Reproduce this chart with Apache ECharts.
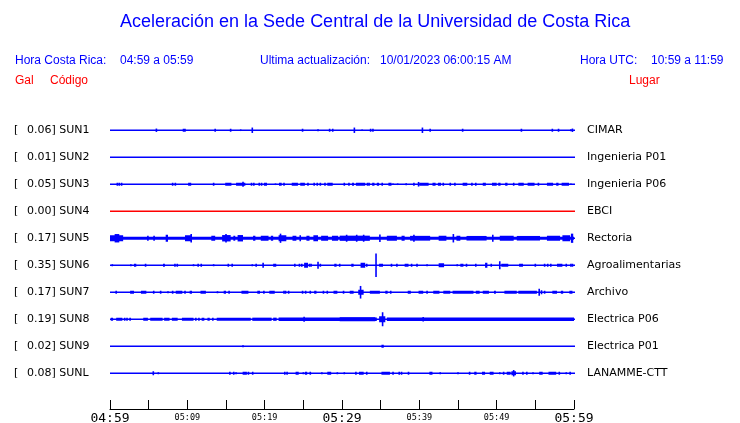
<!DOCTYPE html>
<html>
<head>
<meta charset="utf-8">
<script src="https://cdn.jsdelivr.net/npm/echarts@6/dist/echarts.min.js"></script>
<style>html,body{margin:0;padding:0;background:#fff}#c{width:740px;height:423px}</style>
</head>
<body>
<div id="c"></div>
<script>
// ---------- data ----------
const titleText = 'Aceleración en la Sede Central de la Universidad de Costa Rica';
const localRange = '04:59 a 05:59';
const utcRange = '10:59 a 11:59';
const updated = '10/01/2023 06:00:15 AM';
const tickLabels = ['04:59','','05:09','','05:19','','05:29','','05:39','','05:49','','05:59'];
const majorTicks = ['04:59','05:29','05:59'];
const codes = ['SUN1','SUN2','SUN3','SUN4','SUN5','SUN6','SUN7','SUN8','SUN9','SUNL'];
const gal = ['0.06','0.01','0.05','0.00','0.17','0.35','0.17','0.19','0.02','0.08'];
const places = ['CIMAR','Ingenieria P01','Ingenieria P06','EBCI','Rectoria','Agroalimentarias','Archivo','Electrica P06','Electrica P01','LANAMME-CTT'];
// events per station: [minute, amplitude] or [startMinute, endMinute, amplitude]
const sun1 = [[6.0,1.7],[9.4,9.8,1.5],[13.6,1.5],[15.6,1.5],[16.9,0.8],[18.4,18.6,2.7],[24.9,25.1,1.5],[26.9,1],[28.4,1.5],[28.8,1.5],[31.6,2.7],[32.6,0.8],[33.7,1.5],[34.0,34.2,1.5],[40.4,2.7],[41.4,1.5],[45.6,1.5],[53.2,1.5],[57.2,1.5],[58.0,1.5],[59.6,1],[59.8,60,1.7]];
const sun2 = [];
const sun3 = [[0.95,1.5],[1.2,1.5],[1.5,1.5],[8.1,1.5],[8.45,1.5],[10.1,10.5,1.5],[13.4,1.5],[14.9,15.7,1.5],[16.3,17.5,1.5],[17.2,2.5],[18.3,1.5],[18.6,1.5],[19.3,1.5],[19.6,1.5],[19.9,20.3,1.5],[21.4,0.8],[21.85,22.2,1.5],[22.5,1.5],[23.5,24.3,1.5],[24.6,25.2,1.5],[25.6,1.5],[26.4,1.5],[26.8,1.5],[27.2,1.5],[27.8,1.5],[28.1,28.8,1.5],[30.3,1.5],[30.9,1.5],[31.3,31.55,1.5],[31.8,33.0,1.5],[33.3,1.5],[33.5,1.5],[33.9,34.2,1.5],[34.5,34.8,1.5],[35.2,35.4,1.5],[36.0,36.4,1.5],[36.6,0.8],[37.2,0.8],[38.3,1],[39.3,39.5,1.5],[39.9,2.3],[40.0,41.2,1.5],[41.7,42.1,1.5],[42.4,42.8,1.5],[43.1,1.5],[44.0,44.2,1.5],[44.6,44.8,1.5],[45.6,46.2,1.5],[46.8,1.5],[47.3,1.5],[48.2,48.6,1.5],[49.4,50.0,1.5],[50.2,50.5,1.5],[51.1,51.4,1.5],[52.2,1.5],[52.8,53.5,1.5],[54.0,54.9,1.5],[55.4,1.5],[56.5,57.3,1.5],[57.7,58.0,1.5],[58.4,59.35,1.5],[59.6,0.8]];
const sun4 = [];
const sun5 = [[0,60,1.6],[0,1.7,3],[0.6,1.2,4.2],[4.9,2.5],[5.7,2.5],[7.2,7.5,3.5],[9.7,10.6,3],[10.5,4.2],[13.1,13.6,2.5],[14.5,15.6,3.2],[15.0,4.2],[15.95,16.2,2.5],[16.5,17.2,3.2],[18.5,18.8,2.5],[19.5,20.5,2.5],[20.8,21.1,2.5],[21.8,22.8,3],[22.05,4.6],[23.6,24.1,2.5],[24.6,24.8,3],[25.4,25.8,2.5],[26.3,26.9,3],[27.3,28.2,2.5],[28.7,29.5,2.5],[29.7,33.6,2.6],[30.6,3.5],[31.9,3.5],[32.8,3.5],[34.9,3.8],[35.8,37.1,2.5],[37.7,38.1,2.5],[38.8,41.4,2.4],[39.3,3.6],[42.5,43.5,2.5],[44.4,4.2],[44.8,45.3,2.5],[46.1,48.7,2.3],[49.5,3.6],[50.4,52.2,2.5],[52.6,55.6,2.3],[56.5,58.2,2.5],[58.5,59.5,3],[59.6,59.9,4.6]];
const sun6 = [[0.3,1],[2.7,1],[3.1,3.4,1.5],[4.6,1.5],[6.85,7.1,1.5],[8.4,1.5],[8.7,1.5],[10.8,1],[11.4,1.5],[11.8,12.0,1.5],[13.4,1],[15.3,15.5,1.5],[15.8,16.0,1.5],[18.4,1],[18.9,1.5],[19.8,20.0,2.5],[21.1,21.5,1.5],[23.9,1.5],[24.5,1.5],[24.8,1.5],[25.1,25.6,2.5],[25.8,1.5],[26.0,1.5],[26.9,3.5],[27.2,1.5],[29.0,29.3,1.5],[29.7,1.5],[31.2,31.5,1.5],[32.4,33.0,2.5],[33.2,1.5],[34.4,11.7],[34.8,35.3,1.5],[36.4,1.5],[37.1,1.5],[38.1,38.6,1.5],[39.0,1.5],[39.7,1.5],[41.0,1],[42.5,43.2,2],[44.9,1],[45.3,45.7,1.5],[46.1,1.5],[47.3,47.5,1.5],[48.5,48.8,2.5],[49.3,1.5],[50.4,4],[50.6,51.5,1.5],[52.9,53.4,1.5],[55.0,1.5],[56.2,1.5],[56.6,1.5],[57.0,1.5],[57.8,58.5,1.5],[59.0,1.5],[59.6,1.5],[59.8,1.5]];
const sun7 = [[0.8,1.5],[2.6,3.1,1.5],[4.0,4.7,1.5],[5.65,1.5],[6.55,1.5],[7.5,1],[8.1,1.5],[8.5,9.35,1.5],[9.7,1.5],[10.3,10.6,1.5],[11.7,12.4,1.5],[13.9,1],[14.7,15.0,1.5],[15.4,1.5],[17.0,17.9,1.5],[19.05,19.4,1.5],[19.9,1.5],[20.6,21.3,1.5],[22.5,1.5],[22.7,1.5],[23.1,23.3,1.5],[24.9,1.5],[25.3,1.5],[25.9,1.5],[26.4,26.7,1.5],[27.6,1.5],[28.1,1.5],[28.9,29.4,1.5],[30.2,1.5],[31.0,31.5,1.5],[32.1,32.8,2.5],[32.4,6.3],[33.6,34.9,1.5],[35.6,35.9,1.5],[36.3,36.5,1.5],[38.5,38.9,1.5],[39.9,40.5,1.5],[41.0,1.5],[41.8,42.6,1.5],[43.1,44.0,1.5],[44.3,47.0,1.5],[47.3,47.8,1.5],[48.2,49.0,1.5],[49.65,49.9,1.5],[51.0,52.6,1.5],[52.8,55.2,1.5],[55.5,3.5],[55.8,2],[56.2,1.5],[57.2,57.8,1.5],[58.3,58.6,1.5],[59.4,59.8,1.5]];
const sun8 = [[0.1,0.4,1.5],[0.8,1.6,1.5],[1.9,1.5],[2.2,1.5],[2.6,1.5],[4.3,4.9,1.5],[5.2,6.8,1.5],[7.0,7.7,1.5],[8.0,8.75,1.5],[9.3,10.8,1.5],[11.1,1.5],[11.5,1.5],[11.85,12.2,1.5],[12.6,12.9,1.5],[13.3,1.5],[13.8,18.2,1.6],[18.4,20.9,1.6],[21.1,21.55,1.6],[21.8,34.5,1.7],[25.1,2.5],[29.7,34.3,1.9],[34.8,35.6,3],[35.25,7],[35.8,60,1.8],[40.5,2.3]];
const sun9 = [[17.2,1],[35.1,35.4,1.5]];
const sunl = [[5.6,2],[6.25,1],[15.5,1.5],[16.0,1.5],[16.3,1],[17.15,17.7,1.5],[17.9,1.5],[18.45,1.5],[22.6,1.5],[22.9,1.5],[24.0,24.4,1.5],[25.0,1],[25.2,25.5,1.5],[25.9,1.5],[27.4,1],[28.1,28.6,1.5],[29.4,1],[30.3,1],[31.8,1.5],[32.2,32.8,1.5],[33.2,1.5],[35.1,36.2,1.5],[36.6,1.5],[37.4,1.5],[37.7,1.5],[38.6,1.5],[41.3,41.7,1.5],[42.7,1],[45.0,1],[46.5,1.5],[47.1,47.4,1.5],[48.1,48.5,1.5],[49.1,49.6,1.5],[50.4,1],[50.9,1.5],[51.3,51.8,1.5],[51.9,52.5,2],[52.2,3.2],[53.4,1.5],[53.9,1.5],[54.7,1],[55.5,55.95,1.5],[56.7,57.7,1.5],[58.1,1.5],[59.0,1],[59.5,1.5]];
const traces = [sun1,sun2,sun3,sun4,sun5,sun6,sun7,sun8,sun9,sunl];

// ---------- chart ----------
const SP = 27;              // vertical slot per station (amplitude units)
const BLUE = '#0000ff', RED = '#ff0000';
const colorOf = i => (i === 3 ? RED : BLUE);

const baseData = codes.map((c, i) => [i]);
const eventData = [];
traces.forEach((tr, i) => tr.forEach(ev => {
  if (ev.length === 2) eventData.push([i, ev[0], ev[0], ev[1]]);
  else eventData.push([i, ev[0], ev[1], ev[2]]);
}));

const chart = echarts.init(document.getElementById('c'), null, {renderer: 'canvas'});
const opt = {
  backgroundColor: '#ffffff',
  animation: false,
  grid: {left: 110, right: 166, top: 103, height: 306, containLabel: false, outerBoundsMode: 'none'},
  xAxis: {
    type: 'value', min: 0, max: 60, interval: 5, position: 'bottom',
    axisLine: {show: true, onZero: false, lineStyle: {color: '#000', width: 1}},
    axisTick: {show: true, inside: true, length: 9, lineStyle: {color: '#000', width: 1}},
    splitLine: {show: false},
    axisLabel: {
      margin: 3, showMinLabel: true, showMaxLabel: true, hideOverlap: false,
      formatter: v => {
        const t = tickLabels[Math.round(v / 5)] || '';
        if (!t) return '';
        return majorTicks.includes(t) ? '{big|' + t + '}' : '{small|' + t + '}';
      },
      rich: {
        big: {fontFamily: 'DejaVu Sans Mono', fontSize: 13, color: '#000'},
        small: {fontFamily: 'DejaVu Sans Mono', fontSize: 8.5, color: '#000', padding: [1,0,0,0]}
      }
    }
  },
  yAxis: {type: 'value', min: 0, max: 306, inverse: true, show: false},
  series: [
    {
      type: 'custom', data: baseData, silent: true,
      renderItem: (params, api) => {
        const i = api.value(0);
        const p0 = api.coord([0, (i + 1) * SP]);
        const p1 = api.coord([60, (i + 1) * SP]);
        return {type: 'rect', shape: {x: p0[0], y: Math.round(p0[1]) - 0.5, width: p1[0] - p0[0] + 1, height: 1.5}, style: {fill: colorOf(i)}};
      }
    },
    {
      type: 'custom', data: eventData, silent: true,
      renderItem: (params, api) => {
        const i = api.value(0), s = api.value(1), e = api.value(2), a = api.value(3);
        const p0 = api.coord([s, (i + 1) * SP]);
        const p1 = api.coord([e, (i + 1) * SP]);
        const h = api.size([0, a])[1];
        let w = p1[0] - p0[0], x = p0[0];
        if (w < 1.6) { x = p0[0] - 0.8; w = 1.6; }
        const cy = Math.round(p0[1]) + 0.25;
        return {type: 'rect', shape: {x: x, y: cy - h, width: w, height: 2 * h}, style: {fill: colorOf(i)}};
      }
    }
  ]
};
chart.setOption(opt);

// ---------- texts ----------
const hdr = {fontFamily: 'Liberation Sans', fontSize: 12, fill: BLUE, textVerticalAlign: 'middle'};
const graphics = [
  {type: 'text', x: 120, y: 22, style: {text: titleText, fontFamily: 'Liberation Sans', fontSize: 18, fill: BLUE, textVerticalAlign: 'middle'}},
  {type: 'text', x: 15, y: 61, style: Object.assign({text: 'Hora Costa Rica:'}, hdr)},
  {type: 'text', x: 120, y: 61, style: Object.assign({text: localRange}, hdr)},
  {type: 'text', x: 260, y: 61, style: Object.assign({text: 'Ultima actualización:'}, hdr)},
  {type: 'text', x: 380, y: 61, style: Object.assign({text: updated}, hdr)},
  {type: 'text', x: 580, y: 61, style: Object.assign({text: 'Hora UTC:'}, hdr)},
  {type: 'text', x: 651, y: 61, style: Object.assign({text: utcRange}, hdr)},
  {type: 'text', x: 15, y: 81, style: Object.assign({}, hdr, {text: 'Gal', fill: RED})},
  {type: 'text', x: 50, y: 81, style: Object.assign({}, hdr, {text: 'Código', fill: RED})},
  {type: 'text', x: 629, y: 81, style: Object.assign({}, hdr, {text: 'Lugar', fill: RED})}
];
const lab = {fontFamily: 'DejaVu Sans', fontSize: 11, fill: '#000', textVerticalAlign: 'middle'};
codes.forEach((c, i) => {
  const y = chart.convertToPixel({gridIndex: 0}, [0, (i + 1) * SP])[1];
  graphics.push({type: 'text', x: 14, y: y, style: Object.assign({text: '['}, lab)});
  graphics.push({type: 'text', x: 27, y: y, style: Object.assign({text: gal[i] + '] ' + c}, lab)});
  graphics.push({type: 'text', x: 587, y: y, style: Object.assign({text: places[i]}, lab)});
});
chart.setOption({graphic: graphics});
</script>
</body>
</html>
